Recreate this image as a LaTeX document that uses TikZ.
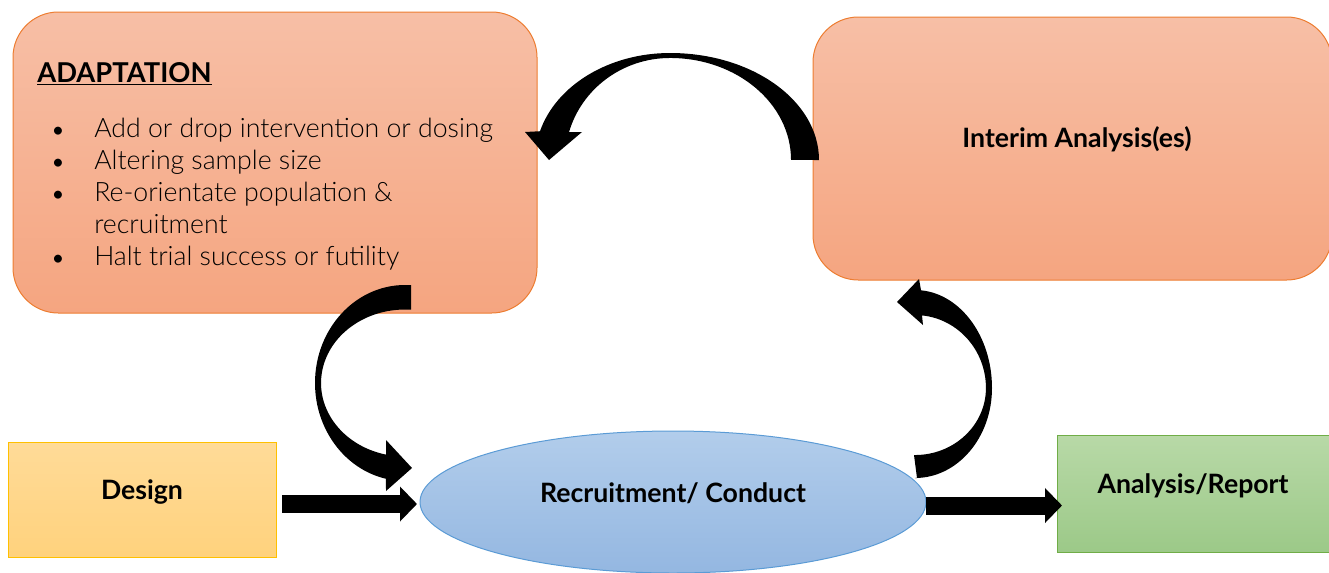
\documentclass[tikz,border=0pt]{standalone}
\usepackage{fontspec}
\setmainfont{Lato}
\newfontfamily\latolight{Lato Light}
\usetikzlibrary{shapes.geometric,arrows.meta,calc}
\definecolor{adtop}{RGB}{247,191,166}
\definecolor{adbot}{RGB}{245,165,128}
\definecolor{adline}{RGB}{237,125,49}
\definecolor{detop}{RGB}{255,219,152}
\definecolor{debot}{RGB}{255,210,125}
\definecolor{deline}{RGB}{255,192,0}
\definecolor{eltop}{RGB}{178,205,235}
\definecolor{elbot}{RGB}{148,183,225}
\definecolor{elline}{RGB}{91,155,213}
\definecolor{antop}{RGB}{184,217,167}
\definecolor{anbot}{RGB}{156,201,136}
\definecolor{anline}{RGB}{112,173,71}
\tikzset{
  shapebox/.style={inner sep=0pt, outer sep=0pt, line width=0.75pt},
  orangebox/.style={shapebox, rectangle, rounded corners=34pt, shade, top color=adtop, bottom color=adbot, draw=adline},
  yellowbox/.style={shapebox, rectangle, shade, top color=detop, bottom color=debot, draw=deline},
  greenbox/.style={shapebox, rectangle, shade, top color=antop, bottom color=anbot, draw=anline},
  blueell/.style={shapebox, ellipse, shade, top color=eltop, bottom color=elbot, draw=elline},
  lbl/.style={inner sep=0pt, font=\bfseries\fontsize{20}{24}\selectfont},
  itm/.style={inner sep=0pt, anchor=base west, font=\latolight\fontsize{20}{24}\selectfont},
  bul/.style={inner sep=0pt, anchor=base, font=\fontsize{16}{24}\selectfont},
  blockarrow/.style={line width=13.5pt, -{Triangle[length=12.75pt, width=25.5pt]}},
}
\begin{document}
\begin{tikzpicture}[x=0.75pt,y=-0.75pt]
\useasboundingbox (0,0) rectangle (1329,572);
% boxes
\node[orangebox, minimum width=393pt, minimum height=225.75pt] (adapt) at (275,162.5) {};
\node[orangebox, minimum width=389.25pt, minimum height=197.25pt] (interim) at (1072.5,148.5) {};
\node[yellowbox, minimum width=201pt, minimum height=86.25pt] (design) at (142,499.5) {};
\node[blueell, minimum width=379.5pt, minimum height=106.5pt] (recruit) at (673,502) {};
\node[greenbox, minimum width=206.25pt, minimum height=87.75pt] (analysis) at (1194.5,493.5) {};
% texts
\node[lbl, anchor=base west, font=\bfseries\fontsize{20.5}{24}\selectfont] (adtitle) at (37,82) {\underline{ADAPTATION}};
\node[bul] (b1) at (58,137) {\textbullet};
\node[bul] (b2) at (58,169) {\textbullet};
\node[bul] (b3) at (58,201) {\textbullet};
\node[bul] (b5) at (58,265) {\textbullet};
\node[itm] (l1) at (94,137) {Add or drop intervention or dosing};
\node[itm] (l2) at (94,169) {Altering sample size};
\node[itm] (l3) at (94,201) {Re-orientate population \&};
\node[itm] (l4) at (94,233) {recruitment};
\node[itm] (l5) at (94,265) {Halt trial success or futility};
\node[lbl, anchor=base] (iatext) at (1077,147) {Interim Analysis(es)};
\node[lbl, anchor=base] (detext) at (142,499) {Design};
\node[lbl, anchor=base] (rctext) at (673,502) {Recruitment/ Conduct};
\node[lbl, anchor=base] (antext) at (1193,493) {Analysis/Report};
% curved block arrow: interim -> adaptation
\fill (819,160) arc[start angle=0, end angle=-90, x radius=149, y radius=107]
  arc[start angle=-90, end angle=-164.4, x radius=135, y radius=107]
  -- (525,132) -- (549,160) -- (582,132) -- (569,132.2)
  arc[start angle=-164.2, end angle=-90, x radius=105, y radius=102]
  arc[start angle=-90, end angle=0, x radius=121, y radius=102] -- cycle;
% curved block arrow: adaptation -> recruitment
\fill (411,285) -- (405,285) arc[start angle=-90, end angle=-257.8, x radius=90, y radius=98]
  -- (386,491) -- (412,468) -- (386,440) -- (386,454.6)
  arc[start angle=-256.9, end angle=-90, x radius=84, y radius=73.5] -- (411,309.5) -- cycle;
% curved block arrow: recruitment -> interim
\fill (917,478) -- (915,478) arc[start angle=90, end angle=0, x radius=77, y radius=90]
  arc[start angle=0, end angle=-85.5, x radius=77, y radius=98]
  -- (919,279) -- (897,302) -- (923,325) -- (922,315.4)
  arc[start angle=-84.3, end angle=0, x radius=71, y radius=73]
  arc[start angle=0, end angle=90, x radius=71, y radius=67] -- (914,455) -- cycle;
% straight block arrows
\draw[blockarrow] ($(design.east)+(6,4.5)$) -- ($(recruit.west)+(-3,2)$);
\draw[blockarrow] ($(recruit.east)+(0,3.5)$) -- ($(analysis.west)+(5,12)$);
\end{tikzpicture}
\end{document}
